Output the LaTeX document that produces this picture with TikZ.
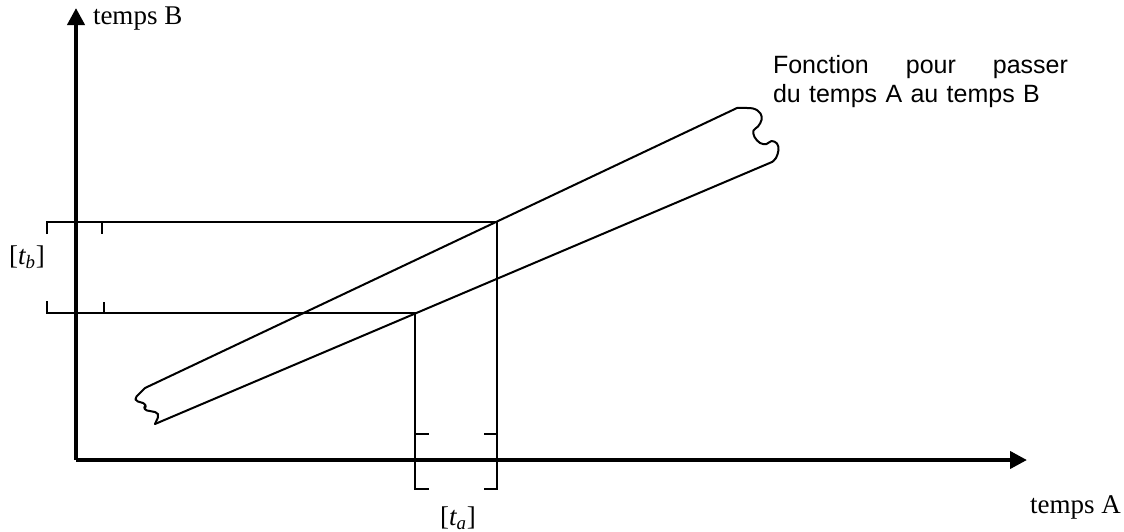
\documentclass[tikz,border=0pt]{standalone}
\usepackage{fontspec}
\setmainfont{Liberation Serif}
\newfontfamily\arialfont{Liberation Sans}
\usetikzlibrary{arrows.meta}

\begin{document}
\begin{tikzpicture}[x=.5pt, y=-.5pt,
    every node/.style={inner sep=0pt, outer sep=0pt},
    axis/.style ={line width=2pt, -{Triangle[length=8.5pt,width=8.5pt]}},
    guide/.style={line width=1pt},
    band/.style ={line width=1pt, line join=round, line cap=round},
    lbl/.style  ={font=\fontsize{13.5}{16}\selectfont},
    fn/.style   ={font=\arialfont\fontsize{12.5}{14.5}\selectfont, text width=147.5pt,
                  align=left, anchor=north west}]

\useasboundingbox (0,0) rectangle (1124,531);

% ── axes ───────────────────────────────────────────────────────────────
\coordinate (O)  at (76,460);
\coordinate (yT) at (76,8);
\coordinate (xT) at (1027,460);
\draw[axis] (O) -- (yT);
\draw[axis] (O) -- (xT);
\node[lbl, anchor=west] (nB) at (93,19) {temps B};
\node[lbl, anchor=west] (nA) at (1030,507) {temps A};

% ── band: function from time A to time B ─────────────────────────────────
\coordinate (uL) at (145,388);  \coordinate (uR) at (737,108);
\coordinate (lL) at (155,424);  \coordinate (lR) at (772,162);
\draw[band] (uL) -- (uR);
\draw[band] (lL) -- (lR);
\draw[band, rounded corners=2.5pt] (uL) -- (133,400) -- (148,404.5) -- (142,409.5)
  -- (160,413) -- (lL);
\draw[band] plot[smooth, tension=.6] coordinates
  {(uR) (753,108.5) (760.5,113.5) (761.5,120) (758,126.5) (753.5,130.5) (754.5,137)
   (760,143) (766.5,144) (771.5,141) (777,143.5) (778.5,150) (776,158) (lR)};
\node[fn] (nF) at (773,55) {Fonction\hfill pour\hfill passer\\du temps A au temps B};

% ── reading an interval [t_a] -> [t_b] ───────────────────────────────────
\coordinate (pB) at (497,222);  \coordinate (hB) at (47,222);  \coordinate (vB) at (497,489);
\coordinate (pA) at (415,313);  \coordinate (hA) at (47,313);  \coordinate (vA) at (415,489);

\draw[guide] ([yshift=-6pt]hB) -- (hB) -- (pB) -- (vB) -- ++(-13,0);
\draw[guide] ([yshift=6pt]hA) -- (hA) -- (pA) -- (vA) -- ++(14,0);
\draw[guide] (102,222) -- ++(0,12);
\draw[guide] (104,313) -- ++(0,-11);
\draw[guide] (415,434) -- ++(14,0);
\draw[guide] (497,434) -- ++(-13,0);

\node[lbl] (tb) at (27,257) {[\textit{t\textsubscript{b}}]};
\node[lbl] (ta) at (458,518) {[\textit{t\textsubscript{a}}]};
\end{tikzpicture}
\end{document}
